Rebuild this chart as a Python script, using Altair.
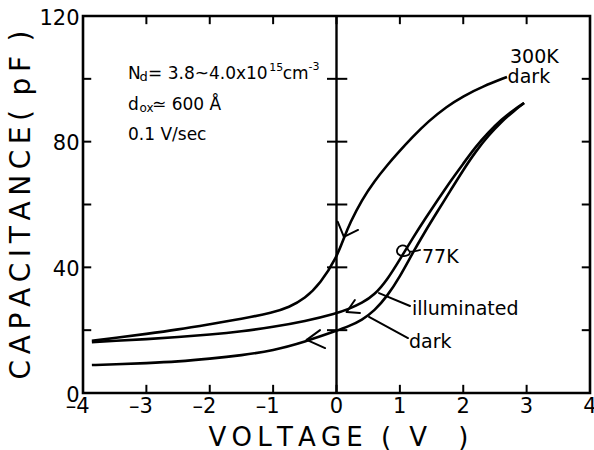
import altair as alt
import pandas as pd

FONT = "DejaVu Sans"

# ---- data ----
v_300k = [-3.86, -3.5, -3.0, -2.5, -2.0, -1.5, -1.0, -0.75, -0.5, -0.25, 0.0, 0.12, 0.21, 0.4, 0.6, 0.8, 0.95, 1.2, 1.45, 1.74, 2.0, 2.3, 2.69]
c_300k = [16.6, 17.5, 18.8, 20.2, 21.9, 23.6, 25.6, 27.3, 30.0, 35.0, 43.0, 49.5, 54.0, 61.5, 67.5, 72.5, 76.0, 81.5, 86.5, 91.2, 94.5, 97.5, 100.6]

v_ill = [-3.86, -3.5, -3.0, -2.5, -2.0, -1.5, -1.0, -0.5, 0.0, 0.2, 0.4, 0.6, 0.8, 1.0, 1.2, 1.4, 1.6, 1.8, 2.0, 2.2, 2.4, 2.6, 2.8, 2.96]
c_ill = [16.2, 16.6, 17.1, 17.8, 18.6, 19.6, 21.0, 22.8, 25.3, 26.8, 28.6, 31.2, 36.0, 42.5, 49.2, 55.5, 61.5, 67.5, 73.0, 78.5, 83.0, 87.0, 90.2, 92.3]

v_dark = [-3.86, -3.5, -3.0, -2.5, -2.0, -1.5, -1.0, -0.5, 0.0, 0.2, 0.4, 0.6, 0.8, 1.0, 1.2, 1.4, 1.6, 1.8, 2.0, 2.2, 2.4, 2.6, 2.8, 2.96]
c_dark = [8.9, 9.1, 9.5, 10.0, 10.9, 12.0, 13.5, 16.3, 19.8, 21.3, 23.2, 26.2, 30.8, 37.0, 44.5, 51.5, 58.0, 64.5, 71.0, 77.0, 82.0, 86.3, 89.8, 92.3]

x_ticks = [-4, -3, -2, -1, 0, 1, 2, 3, 4]
y_ticks = [0, 20, 40, 60, 80, 100, 120]
y_labels = [0, 40, 80, 120]

# small loop marking the 77K pair
v_loop = [1.33, 1.16, 1.10, 1.02, 0.96, 0.97, 1.05, 1.14, 1.16]
c_loop = [45.6, 45.0, 46.6, 46.9, 45.8, 44.3, 43.6, 44.0, 45.0]

# arrow heads (tip -> wing) and leader lines
seg_v = [0.117, 0.117, 0.16, 0.16, -0.47, -0.47, 0.671, 0.513]
seg_c = [49.7, 49.7, 25.8, 25.8, 16.9, 16.9, 31.8, 24.2]
seg_v2 = [0.02, 0.34, 0.29, 0.37, -0.26, -0.18, 1.16, 1.128]
seg_c2 = [54.5, 51.9, 29.6, 25.5, 20.0, 14.3, 27.7, 17.5]

# annotation texts
ann_text = ["N", "d", "= 3.8~4.0x10", "15", "cm", "-3",
            "d", "ox", "\u2243 600 \u00c5",
            "0.1 V/sec",
            "300K", "dark", "77K", "illuminated", "dark"]
ann_v = [-3.29, -3.11, -2.974, -1.06, -0.85, -0.44,
         -3.29, -3.11, -2.91,
         -3.29,
         2.738, 2.70, 1.349, 1.191, 1.144]
ann_c = [99.9, 99.2, 99.9, 102.4, 99.9, 102.8,
         90.1, 89.4, 90.1,
         80.5,
         105.0, 98.7, 41.4, 24.8, 14.3]
ann_fs = [17, 13, 17, 11, 17, 11,
          17, 12, 17,
          17,
          19, 19, 19, 19, 19]

# ---- tables ----
rows = []
for name, vs, cs in [("300K dark", v_300k, c_300k), ("77K illuminated", v_ill, c_ill), ("77K dark", v_dark, c_dark), ("loop", v_loop, c_loop)]:
    for i, (v, c) in enumerate(zip(vs, cs)):
        rows.append({"series": name, "i": i, "v": v, "c": c})
curves = pd.DataFrame(rows)
smooth = curves[curves.series != "loop"]
loop = curves[curves.series == "loop"]

segs = pd.DataFrame({"v": seg_v, "c": seg_c, "v2": seg_v2, "c2": seg_c2})
ann = pd.DataFrame({"v": ann_v, "c": ann_c, "text": ann_text, "fs": ann_fs})

# inward tick marks on the frame and on the V=0 line
tk = []
for t in x_ticks[1:-1]:
    tk.append({"v": t, "c": 0, "v2": t, "c2": 2.6})
    tk.append({"v": t, "c": 120, "v2": t, "c2": 117.4})
for t in y_ticks[1:-1]:
    tk.append({"v": -4, "c": t, "v2": -3.87, "c2": t})
    tk.append({"v": 4, "c": t, "v2": 3.87, "c2": t})
    tk.append({"v": -0.15, "c": t, "v2": 0.17, "c2": t})
ticks = pd.DataFrame(tk)
zero = pd.DataFrame({"v": [0], "c": [0], "c2": [120]})

xs = alt.Scale(domain=[-4, 4], nice=False, zero=False)
ys = alt.Scale(domain=[0, 120], nice=False, zero=False)

TS = "\u2009"   # thin space
EN = "\u2002"   # en space
x_title = TS.join("VOLTAGE") + EN + TS + "(" + EN + TS + "V" + EN + EN + TS + ")"
y_title = TS.join("CAPACITANCE") + TS + "(" + TS + " p" + TS + "F" + TS + " )"

x_axis = alt.Axis(values=x_ticks, grid=False, ticks=False, domain=False,
                  labelFont=FONT, labelFontSize=21, labelColor="black",
                  labelAlign="right", labelOffset=6, labelPadding=2,
                  labelExpr="datum.value < 0 ? '\u2013' + (-datum.value) : '' + datum.value",
                  title=x_title, titleFont=FONT, titleFontSize=26,
                  titleFontWeight="normal", titleColor="black",
                  titleX=255, titleY=44, titleBaseline="middle", titleAlign="center")
y_axis = alt.Axis(values=y_labels, grid=False, ticks=False, domain=False,
                  labelFont=FONT, labelFontSize=21, labelColor="black",
                  labelPadding=4, labelOffset=2,
                  title=y_title,
                  titleFont=FONT, titleFontSize=28,
                  titleFontWeight="normal", titleColor="black",
                  titleX=-62, titleY=188.5, titleBaseline="middle", titleAlign="center", titleAngle=-90)

X = alt.X("v:Q", scale=xs, axis=x_axis)
Y = alt.Y("c:Q", scale=ys, axis=y_axis)

lines = alt.Chart(smooth).mark_line(color="black", strokeWidth=2.6, interpolate="basis").encode(
    x=X, y=Y, detail="series:N", order="i:Q")
loop_l = alt.Chart(loop).mark_line(color="black", strokeWidth=1.8, interpolate="cardinal").encode(
    x=X, y=Y, order="i:Q")
seg_l = alt.Chart(segs).mark_rule(color="black", strokeWidth=2.0, strokeCap="round").encode(
    x=X, y=Y, x2="v2:Q", y2="c2:Q")
tick_l = alt.Chart(ticks).mark_rule(color="black", strokeWidth=2.0).encode(
    x=X, y=Y, x2="v2:Q", y2="c2:Q")
zero_l = alt.Chart(zero).mark_rule(color="black", strokeWidth=2.4).encode(
    x=X, y=Y, y2="c2:Q")
text_l = alt.Chart(ann).mark_text(align="left", baseline="alphabetic", font=FONT, color="black").encode(
    x=X, y=Y, text="text:N", size=alt.Size("fs:Q", scale=None, legend=None))

chart = alt.layer(zero_l, tick_l, lines, loop_l, seg_l, text_l).properties(
    width=507, height=377, autosize="none",
    padding={"left": 83, "top": 16, "right": 4, "bottom": 57},
    background="white",
).configure_view(stroke="black", strokeWidth=2.6)

chart.save("out.html", embed_options={"renderer": "svg", "actions": False})
